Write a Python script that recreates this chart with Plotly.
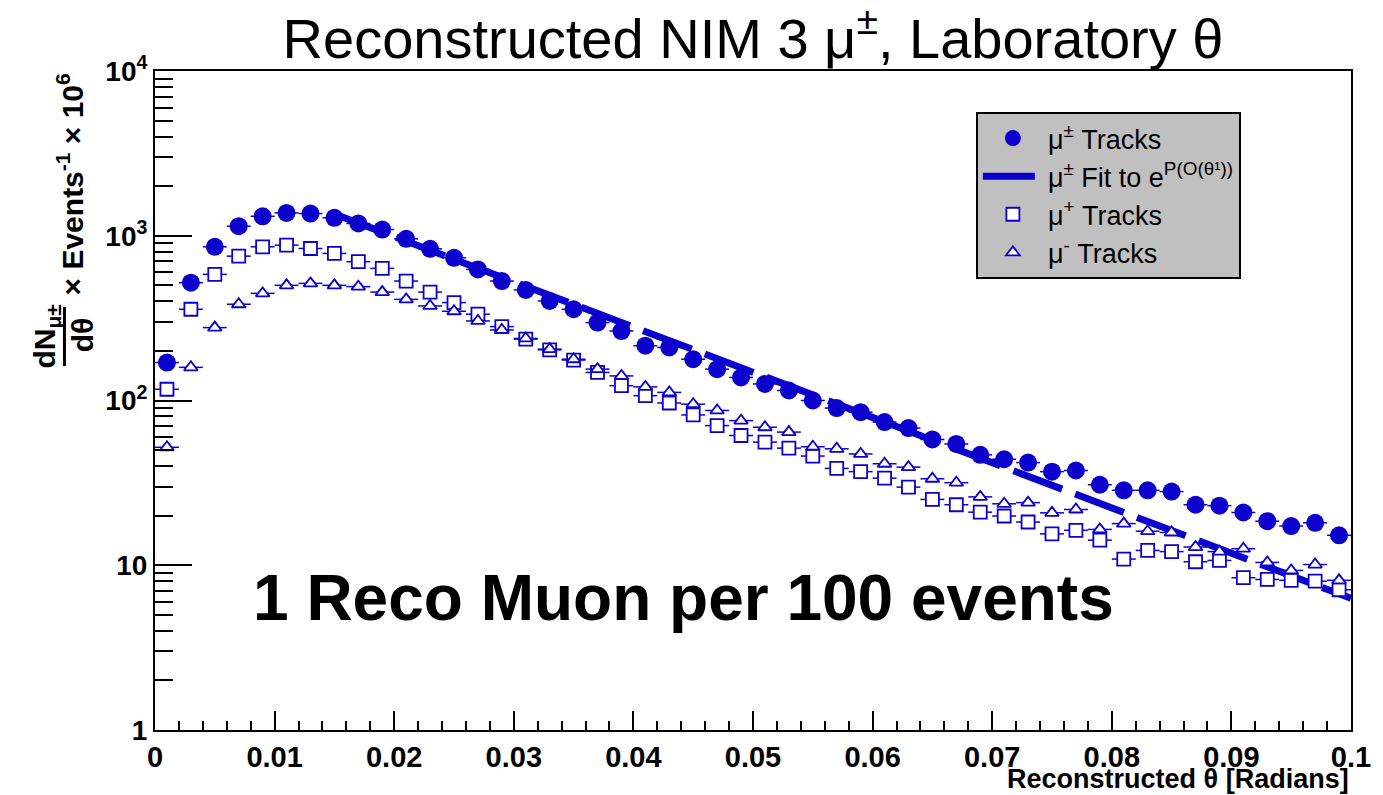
import math
import plotly.graph_objects as go

# Bin centres of the reconstructed laboratory angle (radians), bin width 0.002
theta = [0.001, 0.003, 0.005, 0.007, 0.009, 0.011, 0.013, 0.015, 0.017, 0.019,
         0.021, 0.023, 0.025, 0.027, 0.029, 0.031, 0.033, 0.035, 0.037, 0.039,
         0.041, 0.043, 0.045, 0.047, 0.049, 0.051, 0.053, 0.055, 0.057, 0.059,
         0.061, 0.063, 0.065, 0.067, 0.069, 0.071, 0.073, 0.075, 0.077, 0.079,
         0.081, 0.083, 0.085, 0.087, 0.089, 0.091, 0.093, 0.095, 0.097, 0.099]
half_bin = 0.001

# dN/dtheta x Events^-1 x 10^6 for all muons, positive and negative muons
mu_pm = [170, 519, 857, 1143, 1313, 1376, 1364, 1285, 1187, 1091,
         958, 833, 735, 625, 531, 469, 402, 358, 297, 264,
         215, 210, 178, 155, 138, 126, 115, 100, 90, 85,
         74, 68, 58, 54.5, 46.8, 44, 42, 37, 37.6, 30.8,
         28.5, 28.5, 28, 23.3, 23, 20.9, 18.5, 17.3, 18.1, 15.2]
mu_plus = [117, 358, 583, 752, 857, 877, 837, 781, 696, 634,
           531, 455, 393, 334, 281, 236, 203, 176, 148, 123,
           107, 96.6, 81.7, 70.4, 61.3, 55.9, 51.4, 46, 38.7, 37,
           33.8, 29.8, 25.1, 23.3, 21, 19.9, 18.3, 15.5, 16.3, 14.2,
           10.9, 12.3, 12.1, 10.5, 10.7, 8.4, 8.2, 8.1, 8.0, 7.1]
mu_minus = [52, 159, 277, 384, 447, 500, 514, 500, 491, 455,
            411, 375, 348, 304, 268, 238, 205, 178, 155, 141,
            121, 112, 95, 87, 75.5, 68.8, 64.3, 52.4, 50.9, 47.4,
            41.3, 39.4, 33.5, 31.7, 26, 23.6, 24, 20.8, 21.8, 16.5,
            17.9, 16.1, 15.8, 12.9, 12.1, 12.6, 10.4, 9.3, 10.1, 8.1]

# Exponential fit exp(p0 + p1*theta) and its range
FIT_P0 = 8.16
FIT_P1 = -63.2
FIT_RANGE = [0.015, 0.1]

x_ticks = [0, 0.01, 0.02, 0.03, 0.04, 0.05, 0.06, 0.07, 0.08, 0.09, 0.1]
x_tick_text = ["0", "0.01", "0.02", "0.03", "0.04", "0.05", "0.06", "0.07", "0.08", "0.09", "0.1"]
y_ticks = [1, 10, 100, 1000, 10000]
y_tick_text = ["1", "10", "10<sup>2</sup>", "10<sup>3</sup>", "10<sup>4</sup>"]

BLUE = "#0C00CC"
FONT = "Liberation Sans, Arial, Helvetica, sans-serif"

W, H = 1383, 795
ML, MR, MT, MB = 155, 26, 71, 65
PW, PH = W - ML - MR, H - MT - MB


def px_to_paper(px, py):
    return (px - ML) / PW, (H - MB - py) / PH


fit_x = FIT_RANGE
fit_y = [math.exp(FIT_P0 + FIT_P1 * t) for t in fit_x]

err = dict(type="constant", value=half_bin, color=BLUE, thickness=1.5, width=0)

fig = go.Figure()
fig.add_trace(go.Scatter(
    x=theta, y=mu_pm, mode="markers", name="μ<sup>±</sup> Tracks",
    marker=dict(symbol="circle", size=18, color=BLUE),
    error_x=err))
fig.add_trace(go.Scatter(
    x=fit_x, y=fit_y, mode="lines", name="μ<sup>±</sup> Fit to e<sup>P(O(θ¹))</sup>",
    line=dict(color=BLUE, width=7, dash="52px,14px")))
fig.add_trace(go.Scatter(
    x=theta, y=mu_plus, mode="markers", name="μ<sup>+</sup> Tracks",
    marker=dict(symbol="square", size=13, color="white", line=dict(color=BLUE, width=1.8)),
    error_x=err))
fig.add_trace(go.Scatter(
    x=theta, y=mu_minus, mode="markers", name="μ<sup>-</sup> Tracks",
    marker=dict(symbol="triangle-up", size=12, color="white", line=dict(color=BLUE, width=1.8)),
    error_x=err))

y_minor = [k * 10 ** d for d in range(0, 4) for k in range(2, 10)]

fig.update_xaxes(
    type="linear", range=[0, 0.1], tickvals=x_ticks, ticktext=x_tick_text,
    ticks="inside", ticklen=19, tickwidth=1.5, tickcolor="black",
    minor=dict(dtick=0.002, tick0=0, ticks="inside", ticklen=9, tickwidth=1.5, tickcolor="black"),
    showline=True, linewidth=2, linecolor="black", mirror=True,
    showgrid=False, zeroline=False,
    tickfont=dict(family=FONT, size=29, color="black", weight="bold"),
)
fig.update_yaxes(
    type="log", range=[0, 4], tickvals=y_ticks, ticktext=y_tick_text,
    ticks="inside", ticklen=37, tickwidth=1.5, tickcolor="black",
    minor=dict(tickvals=y_minor, ticks="inside", ticklen=18, tickwidth=1.5, tickcolor="black"),
    showline=True, linewidth=2, linecolor="black", mirror=True,
    showgrid=False, zeroline=False,
    tickfont=dict(family=FONT, size=28, color="black", weight="bold"),
)

annotations = []
# x-axis title, right aligned at the end of the axis
ax, ay = px_to_paper(1357, 779)
annotations.append(dict(x=1.0, y=ay, xref="paper", yref="paper", xanchor="right", yanchor="middle",
                        text="Reconstructed θ [Radians]", showarrow=False,
                        font=dict(family=FONT, size=27, color="black", weight="bold")))
# y-axis title: fraction dN/dtheta followed by the normalisation
ex, ey = px_to_paper(70, 184)
annotations.append(dict(x=ex, y=ey, xref="paper", yref="paper", xanchor="center", yanchor="middle",
                        textangle=-90, text="× Events<sup>-1</sup> × 10<sup>6</sup>", showarrow=False,
                        font=dict(family=FONT, size=30, color="black", weight="bold")))
nx, ny = px_to_paper(45, 336)
annotations.append(dict(x=nx, y=ny, xref="paper", yref="paper", xanchor="center", yanchor="middle",
                        textangle=-90, text="dN<sub>μ±</sub>", showarrow=False,
                        font=dict(family=FONT, size=30, color="black", weight="bold")))
dx, dy = px_to_paper(82, 335)
annotations.append(dict(x=dx, y=dy, xref="paper", yref="paper", xanchor="center", yanchor="middle",
                        textangle=-90, text="dθ", showarrow=False,
                        font=dict(family=FONT, size=30, color="black", weight="bold")))
# Caption inside the frame
cx, cy = px_to_paper(686, 598)
annotations.append(dict(x=cx, y=cy, xref="paper", yref="paper", xanchor="center", yanchor="middle",
                        text="1 Reco Muon per 100 events", showarrow=False,
                        font=dict(family=FONT, size=64, color="black", weight="bold")))

bx, by0 = px_to_paper(64, 307)
_, by1 = px_to_paper(64, 366)
shapes = [dict(type="line", xref="paper", yref="paper", x0=bx, x1=bx, y0=by0, y1=by1,
               line=dict(color="black", width=3))]

lx, ly = px_to_paper(980, 112)
fig.update_layout(
    width=W, height=H,
    margin=dict(l=ML, r=MR, t=MT, b=MB, pad=0),
    paper_bgcolor="white", plot_bgcolor="white",
    title=dict(text="Reconstructed NIM 3 μ<sup>±</sup>, Laboratory θ", x=0.5, xref="paper",
               y=1 - 38 / H, yref="container", xanchor="center", yanchor="middle",
               font=dict(family=FONT, size=56, color="black")),
    legend=dict(x=lx, y=ly, xanchor="left", yanchor="top", bgcolor="#C0C0C0",
                bordercolor="black", borderwidth=2, itemwidth=60,
                font=dict(family=FONT, size=27, color="black")),
    annotations=annotations, shapes=shapes,
    font=dict(family=FONT, color="black"),
)

fig.write_html("out.html")
